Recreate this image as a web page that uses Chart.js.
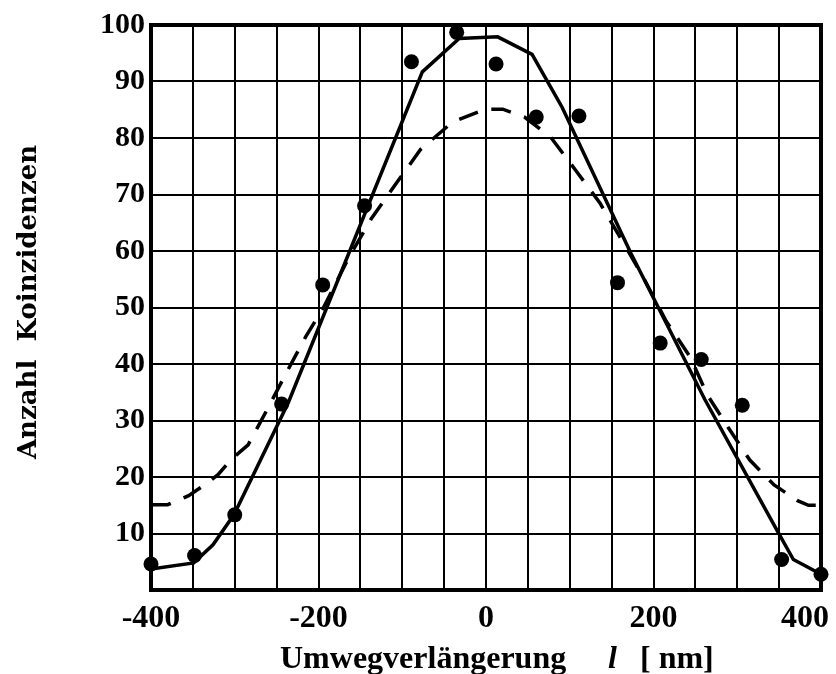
<!DOCTYPE html>
<html>
<head>
<meta charset="utf-8">
<script src="https://cdn.jsdelivr.net/npm/chart.js@4"></script>
<style>
  html, body { margin: 0; padding: 0; background: #fff; }
  #wrap { width: 836px; height: 674px; }
</style>
</head>
<body>
<div id="wrap"><canvas id="coincChart"></canvas></div>
<script>
// measured coincidences
var measX = [-400, -348, -300, -244, -195, -145, -89, -35, 12, 60, 111, 157, 208, 257, 306, 353, 400];
var measY = [4.6, 6.1, 13.3, 32.9, 54.0, 68.0, 93.5, 98.7, 93.1, 83.7, 83.9, 54.4, 43.7, 40.8, 32.7, 5.4, 2.8];

// solid curve
var solidX = [-400, -349, -326, -301, -236, -76, -32, 14, 55, 91, 173, 261, 347, 367, 400];
var solidY = [3.7, 4.8, 8.0, 13.3, 33.2, 91.7, 97.6, 97.9, 94.8, 85.4, 59.6, 33.8, 10.7, 5.4, 2.8];

// dashed curve
var dashX = [-400, -380, -355, -336, -320, -305, -284, -260, -240, -215, -194, -164, -137, -108, -78, -40, -1, 20, 46, 77, 107, 136, 163, 188, 215, 244, 264, 289, 315, 344, 372, 385, 400];
var dashY = [15.1, 15.1, 16.7, 18.6, 20.4, 23.0, 25.7, 32.3, 38.0, 44.9, 50.0, 58.8, 65.7, 71.8, 78.0, 82.8, 85.1, 85.1, 83.7, 80.2, 74.3, 68.5, 61.7, 55.3, 47.6, 41.2, 34.6, 28.8, 23.0, 18.6, 15.8, 15.0, 15.0];

var xTickLabels = [-400, -200, 0, 200, 400];
var yTickLabels = [10, 20, 30, 40, 50, 60, 70, 80, 90, 100];

function pairs(xs, ys) {
    return xs.map(function(x, i) { return {x: x, y: ys[i]}; });
}

// thick frame around the plot area
var framePlugin = {
    id: 'frame',
    beforeDatasetsDraw: function(chart) {
        var a = chart.chartArea, ctx = chart.ctx;
        ctx.save();
        ctx.strokeStyle = '#000';
        ctx.lineWidth = 4;
        ctx.strokeRect(a.left, a.top, a.right - a.left, a.bottom - a.top);
        ctx.restore();
    }
};

// axis titles (x title has an italic l)
var titlePlugin = {
    id: 'axisTitles',
    afterDraw: function(chart) {
        var ctx = chart.ctx;
        ctx.save();
        ctx.fillStyle = '#000';
        ctx.textBaseline = 'alphabetic';
        ctx.textAlign = 'left';
        ctx.font = 'bold 32px "Liberation Serif"';
        ctx.fillText('Umwegverlängerung', 280, 668);
        ctx.font = 'italic bold 32px "Liberation Serif"';
        ctx.fillText('l', 608, 668);
        ctx.font = 'bold 32px "Liberation Serif"';
        ctx.fillText('[ nm]', 640, 668);

        ctx.translate(36, 302);
        ctx.rotate(-Math.PI / 2);
        ctx.textAlign = 'center';
        ctx.font = 'bold 26px "DejaVu Serif"';
        ctx.fillText('Anzahl  Koinzidenzen', 0, 0);
        ctx.restore();
    }
};

var ctx = document.getElementById('coincChart').getContext('2d');
var coincChart = new Chart(ctx, {
    type: 'scatter',
    data: {
        datasets: [{
            data: pairs(measX, measY),
            showLine: false,
            clip: false,
            pointRadius: 7.5,
            pointBackgroundColor: '#000',
            pointBorderColor: '#000',
            pointBorderWidth: 0
        }, {
            data: pairs(solidX, solidY),
            showLine: true,
            borderColor: '#000',
            borderWidth: 3.5,
            pointRadius: 0,
            tension: 0
        }, {
            data: pairs(dashX, dashY),
            showLine: true,
            borderColor: '#000',
            borderWidth: 3.5,
            borderDash: [20, 14],
            pointRadius: 0,
            tension: 0
        }]
    },
    options: {
        responsive: true,
        maintainAspectRatio: false,
        animation: false,
        layout: { padding: { top: 25, right: 15, left: 0, bottom: 0 } },
        plugins: {
            legend: { display: false },
            tooltip: { enabled: false }
        },
        scales: {
            x: {
                type: 'linear',
                min: -400,
                max: 400,
                afterFit: function(scale) {
                    scale.height = 84;
                    scale.paddingLeft = 0;
                    scale.paddingRight = 0;
                },
                border: { display: false },
                grid: { color: '#000', lineWidth: 2, drawTicks: false },
                ticks: {
                    stepSize: 50,
                    autoSkip: false,
                    maxRotation: 0,
                    minRotation: 0,
                    padding: 10,
                    color: '#000',
                    font: { family: 'Liberation Serif', size: 32, weight: 'bold' },
                    callback: function(v) {
                        if (xTickLabels.indexOf(v) < 0) return '';
                        // last label sits inside the canvas edge
                        return v === 400 ? '400\u00a0\u00a0\u00a0\u00a0' : String(v);
                    }
                }
            },
            y: {
                type: 'linear',
                min: 0,
                max: 100,
                afterFit: function(scale) {
                    scale.width = 151;
                    scale.paddingTop = 0;
                    scale.paddingBottom = 0;
                },
                border: { display: false },
                grid: { color: '#000', lineWidth: 2, drawTicks: false },
                ticks: {
                    stepSize: 10,
                    autoSkip: false,
                    padding: 6,
                    color: '#000',
                    font: { family: 'Liberation Serif', size: 30, weight: 'bold' },
                    callback: function(v) { return yTickLabels.indexOf(v) >= 0 ? String(v) : ''; }
                }
            }
        }
    },
    plugins: [framePlugin, titlePlugin]
});
</script>
</body>
</html>
